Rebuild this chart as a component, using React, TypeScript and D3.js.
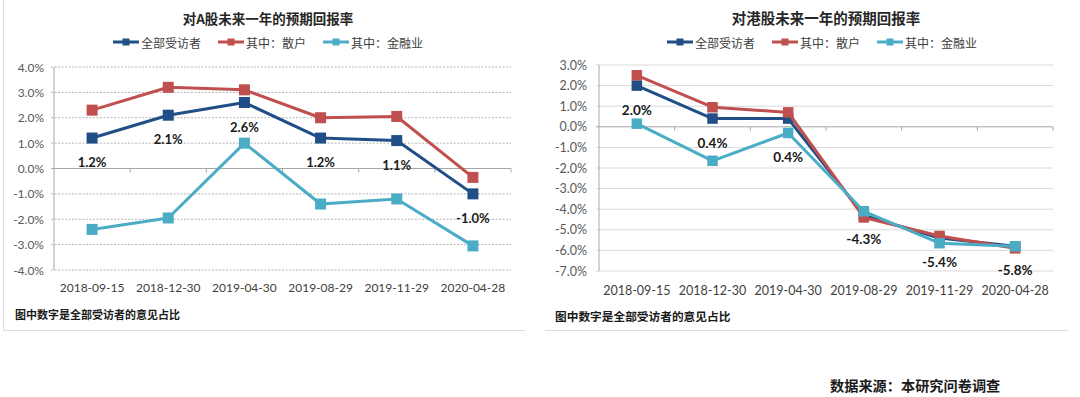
import React, { useRef, useEffect } from "react";
import { select, scaleLinear, scaleBand, line } from "d3";

// x categories (same for both charts)
const categories = ["2018-09-15", "2018-12-30", "2019-04-30", "2019-08-29", "2019-11-29", "2020-04-28"];
const seriesNames = ["全部受访者", "其中：散户", "其中：金融业"];
const seriesColors = ["#214e86", "#c0504d", "#4bacc6"];

// A股
const aTitle = "对A股未来一年的预期回报率";
const aAll = [1.2, 2.1, 2.6, 1.2, 1.1, -1.0];
const aRetail = [2.3, 3.2, 3.1, 2.0, 2.05, -0.35];
const aFinance = [-2.4, -1.95, 1.0, -1.4, -1.2, -3.05];
const aTicks = [4, 3, 2, 1, 0, -1, -2, -3, -4];

// 港股
const hTitle = "对港股未来一年的预期回报率";
const hAll = [2.0, 0.4, 0.4, -4.3, -5.4, -5.8];
const hRetail = [2.5, 0.95, 0.7, -4.4, -5.3, -5.9];
const hFinance = [0.15, -1.65, -0.3, -4.1, -5.65, -5.8];
const hTicks = [3, 2, 1, 0, -1, -2, -3, -4, -5, -6, -7];

const note = "图中数字是全部受访者的意见占比";
const source = "数据来源：本研究问卷调查";

const CJK = "'Noto Sans CJK SC', sans-serif";
const NUM = "Lato, 'Noto Sans CJK SC', sans-serif";

function drawChart(g, o) {
  const x = scaleBand().domain(categories).range([o.x0, o.x1]);
  const y = scaleLinear().domain([o.ticks[o.ticks.length - 1], o.ticks[0]]).range([o.yBot, o.yTop]);

  // title
  g.append("text")
    .attr("x", o.titleX).attr("y", o.titleY)
    .attr("text-anchor", "middle").attr("dominant-baseline", "central")
    .style("font-family", CJK).style("font-weight", "bold").style("font-size", o.titleSize + "px")
    .attr("fill", "#262626")
    .text(o.title);

  // legend, centred
  const leg = g.append("g");
  let cx = 0;
  seriesNames.forEach((name, i) => {
    const it = leg.append("g").attr("transform", `translate(${cx},0)`);
    it.append("line").attr("x1", 0).attr("x2", 26).attr("y1", 0).attr("y2", 0)
      .attr("stroke", seriesColors[i]).attr("stroke-width", 3);
    it.append("rect").attr("x", 9.5).attr("y", -3.5).attr("width", 7).attr("height", 7).attr("fill", seriesColors[i]);
    const t = it.append("text").attr("x", 28).attr("y", 0).attr("dominant-baseline", "central")
      .style("font-family", CJK).style("font-size", o.legendSize + "px").attr("fill", "#404040")
      .text(name);
    const w = t.node().getComputedTextLength();
    cx += 28 + w + 17;
  });
  const legW = cx - 17;
  leg.attr("transform", `translate(${o.legendCx - legW / 2},${o.legendY})`);

  // grid
  o.ticks.forEach((t) => {
    if (t === 0) return;
    g.append("line")
      .attr("x1", o.x0 - 3).attr("x2", o.x1)
      .attr("y1", y(t)).attr("y2", y(t))
      .attr("stroke", o.dotted ? "#b3b3b3" : "#d9d9d9")
      .attr("stroke-width", 1)
      .attr("stroke-dasharray", o.dotted ? "2,1.5" : null);
  });
  // y axis line
  g.append("line").attr("x1", o.x0).attr("x2", o.x0).attr("y1", o.yTop).attr("y2", o.yBot)
    .attr("stroke", "#a6a6a6");
  // zero line with category ticks
  g.append("line").attr("x1", o.x0 - 3).attr("x2", o.x1).attr("y1", y(0)).attr("y2", y(0))
    .attr("stroke", "#a6a6a6");
  categories.forEach((c) => {
    const xe = x(c) + x.bandwidth();
    g.append("line").attr("x1", xe).attr("x2", xe).attr("y1", y(0)).attr("y2", y(0) + 4)
      .attr("stroke", "#a6a6a6");
  });

  // y tick labels
  o.ticks.forEach((t) => {
    g.append("text").attr("x", o.labelRight).attr("y", y(t))
      .attr("text-anchor", "end").attr("dominant-baseline", "central")
      .style("font-family", NUM).style("font-size", o.tickSize + "px").attr("fill", "#595959")
      .text(t.toFixed(1) + "%");
  });
  // x labels
  categories.forEach((c) => {
    g.append("text").attr("x", x(c) + x.bandwidth() / 2).attr("y", o.xLabelY)
      .attr("text-anchor", "middle").attr("dominant-baseline", "central")
      .style("font-family", NUM).style("font-size", o.tickSize + "px").attr("fill", "#404040")
      .text(c);
  });

  // series
  const cxOf = (i) => x(categories[i]) + x.bandwidth() / 2;
  const ln = line().x((d, i) => cxOf(i)).y((d) => y(d));
  o.series.forEach((vals, si) => {
    g.append("path").attr("d", ln(vals)).attr("fill", "none")
      .attr("stroke", seriesColors[si]).attr("stroke-width", 3).attr("stroke-linejoin", "round");
    vals.forEach((v, i) => {
      g.append("rect")
        .attr("x", cxOf(i) - o.marker / 2).attr("y", y(v) - o.marker / 2)
        .attr("width", o.marker).attr("height", o.marker)
        .attr("fill", seriesColors[si]);
    });
  });

  // data labels for 全部受访者, below the marker, pushed down if a marker is in the way
  o.series[0].forEach((v, i) => {
    let ly = y(v) + 24;
    const clash = o.series.slice(1).some((s) => Math.abs(y(s[i]) - ly) < 12);
    if (clash) ly += 14;
    g.append("text").attr("x", cxOf(i)).attr("y", ly)
      .attr("text-anchor", "middle").attr("dominant-baseline", "central")
      .style("font-family", NUM).style("font-weight", "bold").style("font-size", o.valueSize + "px")
      .attr("fill", "#1a1a1a")
      .text(v.toFixed(1) + "%");
  });

  // note
  g.append("text").attr("x", o.noteX).attr("y", o.noteY).attr("dominant-baseline", "central")
    .style("font-family", CJK).style("font-weight", "bold").style("font-size", o.noteSize + "px")
    .attr("fill", "#1a1a1a")
    .text(note);
}

export default function App() {
  const svgRef = useRef(null);

  useEffect(() => {
    const svg = select(svgRef.current);
    svg.selectAll("*").remove();

    // panel frames
    svg.append("path").attr("d", "M3.5,0 V330.5 H525").attr("fill", "none").attr("stroke", "#dcdcdc");
    svg.append("line").attr("x1", 545).attr("x2", 1068).attr("y1", 330.5).attr("y2", 330.5).attr("stroke", "#dcdcdc");

    drawChart(svg.append("g"), {
      title: aTitle, series: [aAll, aRetail, aFinance], ticks: aTicks,
      x0: 54, x1: 511, yTop: 67, yBot: 270,
      titleX: 268, titleY: 18, titleSize: 13.5,
      legendCx: 268, legendY: 42, legendSize: 12,
      labelRight: 44, tickSize: 12, xLabelY: 287,
      valueSize: 13, marker: 11, dotted: true,
      noteX: 15, noteY: 314, noteSize: 11,
    });
    drawChart(svg.append("g"), {
      title: hTitle, series: [hAll, hRetail, hFinance], ticks: hTicks,
      x0: 599, x1: 1053, yTop: 65, yBot: 271,
      titleX: 826, titleY: 17, titleSize: 14.5,
      legendCx: 822, legendY: 42, legendSize: 12,
      labelRight: 587, tickSize: 12.5, xLabelY: 290,
      valueSize: 13.5, marker: 10.5, dotted: false,
      noteX: 555, noteY: 315, noteSize: 11.7,
    });

    svg.append("text").attr("x", 830).attr("y", 385).attr("dominant-baseline", "central")
      .style("font-family", CJK).style("font-weight", "bold").style("font-size", "14.2px")
      .attr("fill", "#1a1a1a")
      .text(source);
  }, []);

  return (
    <div style={{ position: "absolute", left: 0, top: 0 }}>
      <svg ref={svgRef} width={1080} height={397} style={{ display: "block", background: "#fff" }} />
    </div>
  );
}
